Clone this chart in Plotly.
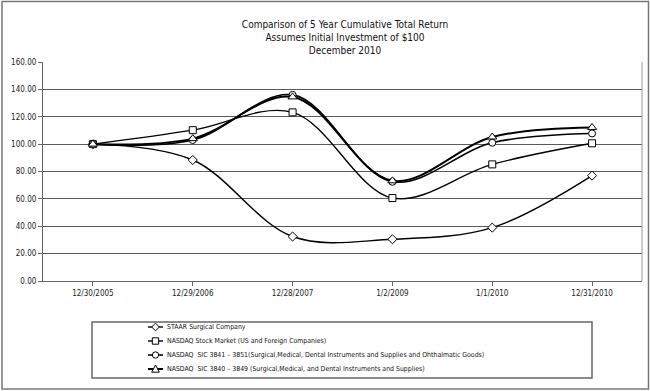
import plotly.graph_objects as go

dates = ["12/30/2005", "12/29/2006", "12/28/2007", "1/2/2009", "1/1/2010", "12/31/2010"]
staar = [100.0, 88.4, 32.5, 30.5, 39.0, 77.0]
nasdaq = [100.0, 110.2, 123.2, 60.6, 85.2, 100.6]
sic3841 = [100.0, 103.0, 136.0, 72.5, 101.0, 107.8]
sic3840 = [100.0, 104.0, 134.5, 73.2, 105.2, 112.2]

names = [
    "STAAR Surgical Company",
    "NASDAQ Stock Market (US and Foreign Companies)",
    "NASDAQ  SIC 3841 \u2013 3851(Surgical,Medical, Dental Instruments and Supplies and Ohthalmatic Goods)",
    "NASDAQ  SIC 3840 \u2013 3849 (Surgical,Medical, and Dental Instruments and Supplies)",
]
series = [staar, nasdaq, sic3841, sic3840]
symbols = ["diamond", "square", "circle", "triangle-up"]
sizes = [7, 7, 7, 8]
widths = [1.4, 1.4, 1.6, 2.0]

FONT = "DejaVu Sans Condensed, Liberation Sans, Arial"

# plot-area geometry in pixels
W, H = 650, 391
L, R, T, B = 43, 642, 62, 281
PW, PH = R - L, B - T


def px(x):
    return (x - L) / PW


def py(y):
    return (B - y) / PH


fig = go.Figure()
for nm, ys, sym, sz, w in zip(names, series, symbols, sizes, widths):
    fig.add_trace(go.Scatter(
        x=dates, y=ys, name=nm, mode="lines+markers", showlegend=False,
        line=dict(color="black", width=w, shape="spline", smoothing=1.0),
        marker=dict(symbol=sym, size=sz, color="white", line=dict(color="black", width=1)),
    ))


def key_shape(sym, cx, cy):
    base = dict(xref="paper", yref="paper", fillcolor="white",
                line=dict(color="black", width=1), layer="above")
    r = 3.2
    if sym == "square":
        return dict(type="rect", x0=px(cx - r), x1=px(cx + r), y0=py(cy + r), y1=py(cy - r), **base)
    if sym == "circle":
        return dict(type="circle", x0=px(cx - r), x1=px(cx + r), y0=py(cy + r), y1=py(cy - r), **base)
    if sym == "diamond":
        pts = [(cx - 3.8, cy), (cx, cy - 3.8), (cx + 3.8, cy), (cx, cy + 3.8)]
    else:
        pts = [(cx - 3.8, cy + 3.2), (cx, cy - 4), (cx + 3.8, cy + 3.2)]
    path = "M " + " L ".join(f"{px(a):.5f},{py(b):.5f}" for a, b in pts) + " Z"
    return dict(type="path", path=path, **base)


# hand-built legend (Excel-like compact spacing)
leg_rows = [327, 341, 355, 369]
shapes = []
annotations = []
for i, (nm, sym, w) in enumerate(zip(names, symbols, widths)):
    yy = py(leg_rows[i])
    shapes.append(dict(type="line", xref="paper", yref="paper",
                       x0=px(148), x1=px(163), y0=yy, y1=yy,
                       line=dict(color="black", width=w)))
    shapes.append(key_shape(sym, 155.5, leg_rows[i]))
    annotations.append(dict(text=nm, xref="paper", yref="paper", x=px(165), y=yy,
                            xanchor="left", yanchor="middle", showarrow=False,
                            font=dict(family=FONT, size=6.9, color="#111")))

shapes += [
    dict(type="rect", xref="paper", yref="paper",
         x0=px(92), x1=px(592), y0=py(378), y1=py(322),
         line=dict(color="#666", width=1.5)),
    dict(type="rect", xref="paper", yref="paper",
         x0=px(2), x1=px(648.5), y0=py(389), y1=py(1.5),
         line=dict(color="#777", width=1.5)),
    dict(type="line", xref="paper", yref="paper", x0=1, x1=1, y0=0, y1=1,
         line=dict(color="#999", width=1)),
]

fig.update_layout(
    width=W, height=H,
    margin=dict(l=L, r=W - R, t=T, b=H - B, autoexpand=False),
    paper_bgcolor="white", plot_bgcolor="white",
    font=dict(family=FONT, size=8, color="#222"),
    title=dict(
        text="Comparison of 5 Year Cumulative Total Return<br>Assumes Initial Investment of $100<br>December 2010",
        x=345 / W, xanchor="center", y=1 - 28 / H, yanchor="top",
        font=dict(family=FONT, size=10, color="#111"), automargin=False,
    ),
    showlegend=False,
    shapes=shapes,
    annotations=annotations,
    xaxis=dict(type="category", range=[-0.5, 5.5], automargin=False,
               showline=True, linecolor="#666", linewidth=1.2,
               ticks="outside", ticklen=4, tickcolor="#666",
               showgrid=False, tickfont=dict(size=8, color="#222")),
    yaxis=dict(range=[0, 160], tickvals=[0, 20, 40, 60, 80, 100, 120, 140, 160],
               tickformat=".2f", automargin=False,
               showline=True, linecolor="#666", linewidth=1.2,
               ticks="outside", ticklen=4, tickcolor="#666",
               showgrid=True, gridcolor="#5a5a5a", gridwidth=1.3,
               zeroline=False, tickfont=dict(size=8, color="#222")),
)

fig.write_html("out.html", post_script="document.body.style.margin='0';",
               config={"displayModeBar": False})
